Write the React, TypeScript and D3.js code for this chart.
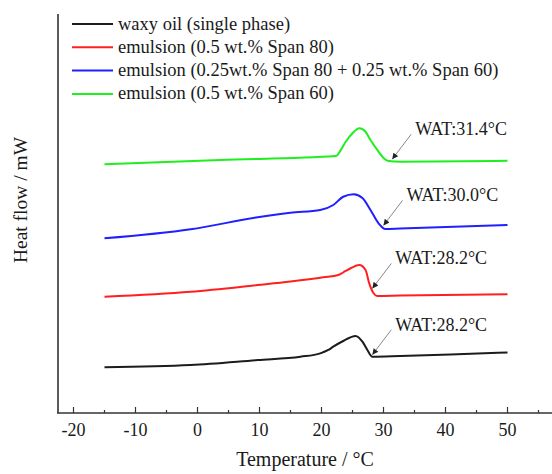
import React from 'react';
import * as d3 from 'd3';

// legend / series
const seriesNames = [
  'waxy oil (single phase)',
  'emulsion (0.5 wt.% Span 80)',
  'emulsion (0.25wt.% Span 80 + 0.25 wt.% Span 60)',
  'emulsion (0.5 wt.% Span 60)',
];
const seriesColors = ['#1c1c1c', '#ff1f1f', '#1f1fff', '#1fef1f'];

// temperature (°C) and heat flow (arbitrary offset, mW)
const blackTemp = [-15, -1.1, 9.7, 16.6, 19.8, 21.1, 21.9, 23.5, 25.5, 26.6, 27.4, 28.2, 32.7, 40.8, 50];
const blackFlow = [0.458, 0.481, 0.531, 0.564, 0.598, 0.632, 0.665, 0.722, 0.772, 0.715, 0.632, 0.564, 0.571, 0.586, 0.607];

const redTemp = [-15, -1.1, 9.7, 15.0, 20.3, 22.7, 23.9, 24.7, 26.1, 27.1, 27.7, 28.4, 29.0, 32.7, 50];
const redFlow = [1.166, 1.216, 1.283, 1.318, 1.36, 1.383, 1.424, 1.451, 1.484, 1.434, 1.3, 1.2, 1.173, 1.178, 1.19];

const blueTemp = [-15, -1.1, 9.7, 15.0, 19.8, 21.9, 23.5, 25.2, 26.6, 27.9, 29.2, 30.3, 32.7, 50];
const blueFlow = [1.751, 1.842, 1.962, 2.008, 2.035, 2.085, 2.168, 2.193, 2.155, 2.035, 1.902, 1.845, 1.85, 1.885];

const greenTemp = [-15, 3.7, 22.3, 23.1, 23.9, 25.0, 26.1, 27.1, 27.9, 29.0, 30.0, 30.8, 32.7, 50];
const greenFlow = [2.493, 2.536, 2.576, 2.635, 2.72, 2.805, 2.854, 2.82, 2.737, 2.637, 2.556, 2.526, 2.519, 2.529];

const watTemps = [28.2, 28.2, 30.0, 31.4];
const watLabels = ['WAT:28.2°C', 'WAT:28.2°C', 'WAT:30.0°C', 'WAT:31.4°C'];

const xTicks = [-20, -10, 0, 10, 20, 30, 40, 50];
const xMinorTicks = [-15, -5, 5, 15, 25, 35, 45, 55];

const temps = [blackTemp, redTemp, blueTemp, greenTemp];
const flows = [blackFlow, redFlow, blueFlow, greenFlow];

const width = 552;
const height = 474;
const font = '"Liberation Serif", "Times New Roman", serif';

const App = () => {
  const x = d3.scaleLinear().domain([-22.5, 57.5]).range([58, 554]);
  const y = d3.scaleLinear().domain([0, 4]).range([413, 14]);

  const series = temps.map((t, i) => t.map((v, j) => [v, flows[i][j]] as [number, number]));

  const line = d3
    .line<[number, number]>()
    .x(d => x(d[0]))
    .y(d => y(d[1]))
    .curve(d3.curveMonotoneX);

  // value of a series at a given temperature (for arrow tips)
  const flowAt = (i: number, t: number) => {
    const interp = d3.scaleLinear().domain(temps[i]).range(flows[i]);
    return interp(t);
  };

  return (
    <div style={{ position: 'absolute', left: 0, top: 0 }}>
      <svg width={width} height={height} style={{ display: 'block', background: '#fff' }}>
        <defs>
          <marker id="arrow" viewBox="0 0 10 10" refX="10" refY="5" markerWidth="8" markerHeight="6"
            markerUnits="userSpaceOnUse" orient="auto">
            <path d="M0,0 L10,5 L0,10 z" fill="#222" />
          </marker>
        </defs>

        {/* axes */}
        <line x1={58} x2={58} y1={y(4)} y2={y(0)} stroke="#333" strokeWidth={1.6} />
        <line x1={57} x2={width} y1={y(0)} y2={y(0)} stroke="#333" strokeWidth={1.6} />
        {xTicks.map(t => (
          <g key={t}>
            <line x1={x(t)} x2={x(t)} y1={y(0)} y2={y(0) - 6} stroke="#333" strokeWidth={1.2} />
            <text x={x(t)} y={436} textAnchor="middle" fontFamily={font} fontSize={18} fill="#1a1a1a">
              {t}
            </text>
          </g>
        ))}
        {xMinorTicks.map(t => (
          <line key={t} x1={x(t)} x2={x(t)} y1={y(0)} y2={y(0) - 3} stroke="#333" strokeWidth={1.2} />
        ))}

        <text x={305} y={466} textAnchor="middle" fontFamily={font} fontSize={20} fill="#1a1a1a">
          Temperature / °C
        </text>
        <text transform="translate(27,200) rotate(-90)" textAnchor="middle" fontFamily={font}
          fontSize={19.5} fill="#1a1a1a">
          Heat flow / mW
        </text>

        {/* curves */}
        {series.map((s, i) => (
          <path key={i} d={line(s) || ''} fill="none" stroke={seriesColors[i]} strokeWidth={2} />
        ))}

        {/* WAT annotations */}
        {watTemps.map((t, i) => {
          const tx = x(t);
          const ty = y(flowAt(i, t)) - 2;
          return (
            <g key={i}>
              <line x1={tx + 19} y1={ty - 25} x2={tx} y2={ty} stroke="#888" strokeWidth={1}
                markerEnd="url(#arrow)" />
              <text x={tx + 23} y={ty - 24} fontFamily={font} fontSize={18} fill="#1a1a1a">
                {watLabels[i]}
              </text>
            </g>
          );
        })}

        {/* legend */}
        {seriesNames.map((n, i) => (
          <g key={n} transform={`translate(72,${24 + i * 23.3})`}>
            <line x1={0} x2={41} y1={0} y2={0} stroke={seriesColors[i]} strokeWidth={2} />
            <text x={46} y={5.5} fontFamily={font} fontSize={18.5} fill="#1a1a1a">
              {n}
            </text>
          </g>
        ))}
      </svg>
    </div>
  );
};

export default App;
